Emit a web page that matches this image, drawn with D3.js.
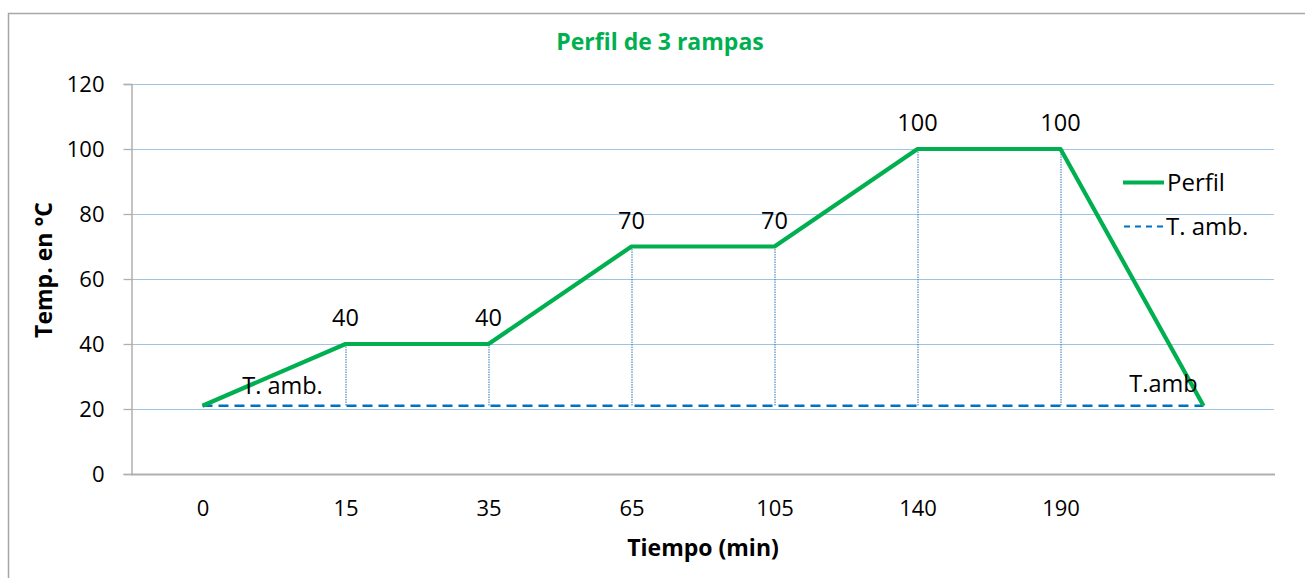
<!DOCTYPE html>
<html>
<head>
<meta charset="utf-8">
<script src="https://cdn.jsdelivr.net/npm/d3@7"></script>
<style>
  html, body { margin: 0; padding: 0; background: #fff; }
  svg { display: block; }
  text { font-family: "Open Sans", "Noto Sans", sans-serif; fill: #000; }
</style>
</head>
<body>
<script>
// Time stops of the thermal profile (category labels; last stop unlabeled)
const timeLabels = ["0", "15", "35", "65", "105", "140", "190", ""];
// Profile temperature at each stop (°C)
const perfil = [21, 40, 40, 70, 70, 100, 100, 21];
// Ambient temperature reference (°C)
const tAmb = [21, 21, 21, 21, 21, 21, 21, 21];
// Value axis ticks
const yTicks = [0, 20, 40, 60, 80, 100, 120];

const W = 1305, H = 578;
const svg = d3.select("body").append("svg").attr("width", W).attr("height", H);

// Outer chart frame
svg.append("rect")
  .attr("x", 8.5).attr("y", 13.5).attr("width", W + 20).attr("height", H + 20)
  .attr("fill", "#fff").attr("stroke", "#a6a6a6").attr("stroke-width", 1.5);

const idx = d3.range(timeLabels.length);
const x = d3.scalePoint().domain(idx).range([131, 1275]).padding(0.5);
const y = d3.scaleLinear().domain([0, 120]).range([474, 84]);

// Horizontal gridlines
svg.append("g").selectAll("line")
  .data(yTicks.filter(v => v > 0))
  .join("line")
  .attr("x1", 131).attr("x2", 1274)
  .attr("y1", d => y(d) + 0.5).attr("y2", d => y(d) + 0.5)
  .attr("stroke", "#9dc3e6").attr("stroke-width", 1.2);

// Y axis
const yAxis = svg.append("g").attr("transform", "translate(131.5,0)")
  .call(d3.axisLeft(y).tickValues(yTicks).tickSize(8).tickPadding(19));
yAxis.select(".domain").attr("stroke", "#b0b0b0").attr("stroke-width", 1.5);
yAxis.selectAll(".tick line").attr("stroke", "#b0b0b0").attr("stroke-width", 1.3);
yAxis.selectAll(".tick text")
  .style("font-family", "'Open Sans', sans-serif").style("font-size", "22px")
  .attr("fill", "#000").attr("dy", "0.36em");

// X axis (no tick marks)
const xAxis = svg.append("g").attr("transform", "translate(0,474.5)")
  .call(d3.axisBottom(x).tickSize(0).tickPadding(26).tickFormat(i => timeLabels[i]));
xAxis.select(".domain").attr("stroke", "#b0b0b0").attr("stroke-width", 2)
  .attr("d", "M131,0H1275");
xAxis.selectAll(".tick text")
  .style("font-family", "'Open Sans', sans-serif").style("font-size", "22px")
  .attr("fill", "#000");

// High-low lines between the profile and ambient series
svg.append("g").selectAll("line")
  .data(idx)
  .join("line")
  .attr("x1", i => x(i) + 0.5).attr("x2", i => x(i) + 0.5)
  .attr("y1", i => y(perfil[i])).attr("y2", i => y(tAmb[i]))
  .attr("stroke", "#2e75b6").attr("stroke-width", 1)
  .attr("stroke-dasharray", "1.5,1");

const line = d3.line().x((d, i) => x(i)).y(d => y(d));

// Ambient temperature (dashed)
svg.append("path").datum(tAmb)
  .attr("d", line).attr("fill", "none")
  .attr("stroke", "#0070c0").attr("stroke-width", 2.5)
  .attr("stroke-dasharray", "10,6");

// Profile (solid green)
svg.append("path").datum(perfil)
  .attr("d", line).attr("fill", "none")
  .attr("stroke", "#00b050").attr("stroke-width", 4.2)
  .attr("stroke-linejoin", "round");

// Value labels above the profile plateaus
svg.append("g").selectAll("text")
  .data(idx.slice(1, 7))
  .join("text")
  .attr("x", i => x(i)).attr("y", i => y(perfil[i]) - 18)
  .attr("text-anchor", "middle")
  .style("font-size", "23.5px")
  .text(i => perfil[i]);

// Ambient labels
svg.append("text").attr("x", x(0) + 80).attr("y", y(tAmb[0]) - 12)
  .attr("text-anchor", "middle").style("font-size", "23.5px").text("T. amb.");
svg.append("text").attr("x", x(7) - 40).attr("y", y(tAmb[7]) - 14)
  .attr("text-anchor", "middle").style("font-size", "23.5px").text("T.amb");

// Title
svg.append("text").attr("x", 660).attr("y", 50)
  .attr("text-anchor", "middle")
  .style("font-size", "23px").style("font-weight", "700")
  .style("fill", "#00b050")
  .text("Perfil de 3 rampas");

// Axis titles
svg.append("text").attr("x", 703).attr("y", 556)
  .attr("text-anchor", "middle")
  .style("font-size", "23px").style("font-weight", "700")
  .text("Tiempo (min)");
svg.append("text")
  .attr("transform", "translate(52,270) rotate(-90)")
  .attr("text-anchor", "middle")
  .style("font-size", "23px").style("font-weight", "700")
  .text("Temp. en °C");

// Legend
const legend = svg.append("g");
legend.append("line").attr("x1", 1123).attr("x2", 1164).attr("y1", 182.5).attr("y2", 182.5)
  .attr("stroke", "#00b050").attr("stroke-width", 4.2);
legend.append("text").attr("x", 1167).attr("y", 182).attr("dy", "0.36em")
  .style("font-size", "24px").text("Perfil");
legend.append("line").attr("x1", 1124).attr("x2", 1164).attr("y1", 226.5).attr("y2", 226.5)
  .attr("stroke", "#0070c0").attr("stroke-width", 2)
  .attr("stroke-dasharray", "6,5");
legend.append("text").attr("x", 1166).attr("y", 226).attr("dy", "0.36em")
  .style("font-size", "24px").text("T. amb.");
</script>
</body>
</html>
